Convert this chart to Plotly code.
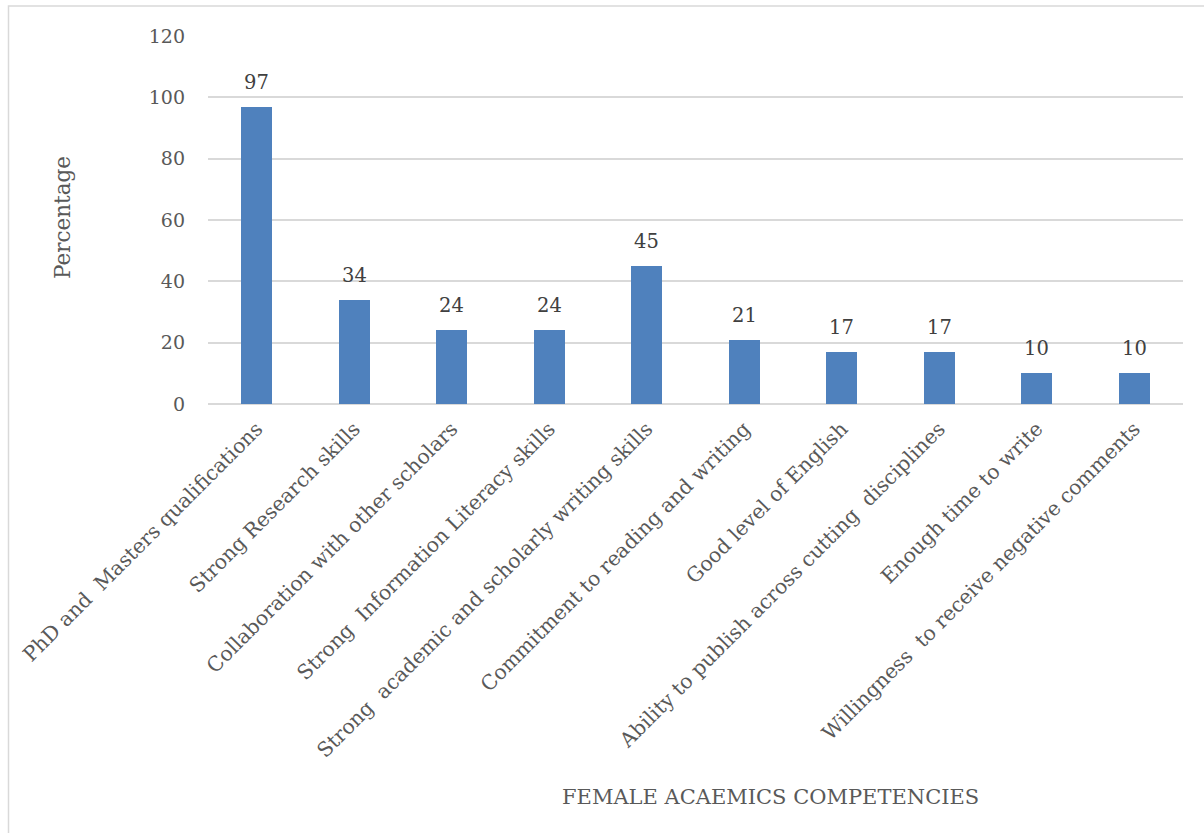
import plotly.graph_objects as go

# Competency categories and percentage of respondents
categories = [
    "PhD and\u00a0 Masters qualifications",
    "Strong Research skills",
    "Collaboration with other scholars",
    "Strong\u00a0 Information Literacy skills",
    "Strong\u00a0 academic and scholarly writing skills",
    "Commitment to reading and writing",
    "Good level of English",
    "Ability to publish across cutting\u00a0 disciplines",
    "Enough time to write",
    "Willingness\u00a0 to receive negative comments",
]
percentages = [97, 34, 24, 24, 45, 21, 17, 17, 10, 10]
y_ticks = [0, 20, 40, 60, 80, 100, 120]

FONT = "DejaVu Serif"
W, H = 1204, 833
L, R, T, B = 208, 21, 36, 429
pw, ph = W - L - R, H - T - B

fig = go.Figure()
fig.add_trace(go.Bar(
    x=categories,
    y=percentages,
    width=0.315,
    marker=dict(color="#4f81bd", line=dict(width=0)),
    cliponaxis=False,
))

# value labels above each bar
value_labels = [
    dict(x=c, y=v, text=str(v), showarrow=False, xref="x", yref="y",
         xanchor="center", yanchor="bottom", yshift=11,
         font=dict(family=FONT, size=19.5, color="#404040"))
    for c, v in zip(categories, percentages)
]

fig.update_layout(
    width=W, height=H,
    margin=dict(l=L, r=R, t=T, b=B),
    paper_bgcolor="white",
    plot_bgcolor="white",
    showlegend=False,
    bargap=0,
    xaxis=dict(
        tickangle=-45,
        tickfont=dict(family=FONT, size=20.3, color="#595959"),
        showgrid=False,
        showline=False,
        ticks="",
        ticklabelstandoff=8,
        automargin=False,
    ),
    yaxis=dict(
        range=[0, 120],
        tickvals=y_ticks,
        tickfont=dict(family=FONT, size=19, color="#595959"),
        showgrid=True,
        gridcolor="#d9d9d9",
        gridwidth=1.5,
        zeroline=True,
        zerolinecolor="#d9d9d9",
        zerolinewidth=1.5,
        showline=False,
        ticks="",
        ticklabelstandoff=22,
        automargin=False,
    ),
    annotations=value_labels + [
        dict(text="Percentage", textangle=-90, showarrow=False,
             xref="paper", yref="paper",
             x=(62 - L) / pw, y=1 - (218 - T) / ph,
             xanchor="center", yanchor="middle",
             font=dict(family=FONT, size=21.5, color="#595959")),
        dict(text="FEMALE ACAEMICS COMPETENCIES", showarrow=False,
             xref="paper", yref="paper",
             x=(770 - L) / pw, y=1 - (797 - T) / ph,
             xanchor="center", yanchor="middle",
             font=dict(family=FONT, size=21, color="#595959")),
    ],
    shapes=[
        dict(type="rect", xref="paper", yref="paper",
             x0=(8.5 - L) / pw, x1=(1210 - L) / pw,
             y0=1 - (840 - T) / ph, y1=1 + (T - 6) / ph,
             line=dict(color="#d9d9d9", width=1.5), fillcolor="rgba(0,0,0,0)",
             layer="below"),
    ],
)

fig.write_html("out.html")
